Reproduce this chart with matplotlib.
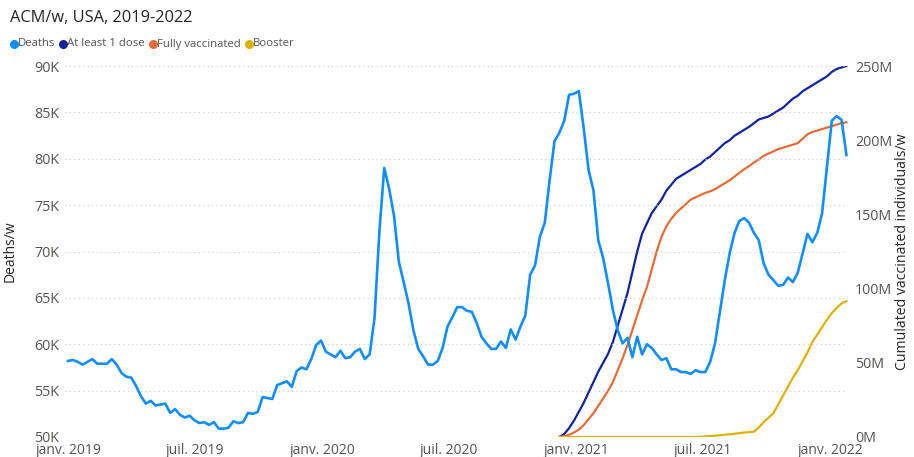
import matplotlib
matplotlib.use('Agg')
import matplotlib.pyplot as plt
import matplotlib.ticker as mticker
import numpy as np
import pandas as pd

# weekly data, one point per ISO week starting 2019-W01
start_date = '2018-12-31'

deaths_k = [
    58.2, 58.3, 58.1, 57.8, 58.1, 58.4, 57.9, 57.9, 57.9, 58.4,
    57.8, 56.9, 56.5, 56.4, 55.5, 54.4, 53.6, 53.9, 53.4, 53.5,
    53.6, 52.6, 53.0, 52.4, 52.1, 52.3, 51.8, 51.5, 51.6, 51.3,
    51.6, 50.9, 50.9, 51.0, 51.7, 51.5, 51.6, 52.6, 52.5, 52.7,
    54.3, 54.2, 54.1, 55.6, 55.8, 56.0, 55.4, 57.1, 57.5, 57.3,
    58.4, 59.9, 60.4, 59.2, 58.9, 58.6, 59.3, 58.5, 58.6, 59.2,
    59.5, 58.4, 58.9, 62.8, 72.1, 79.0, 76.8, 73.9, 68.9, 66.7,
    64.4, 61.5, 59.5, 58.7, 57.8, 57.8, 58.2, 59.6, 61.9, 62.9,
    64.0, 64.0, 63.6, 63.5, 62.3, 60.8, 60.1, 59.5, 59.5, 60.3,
    59.6, 61.6, 60.5, 61.9, 63.1, 67.5, 68.5, 71.6, 73.1, 77.7,
    81.9, 82.8, 84.1, 86.9, 87.0, 87.3, 83.3, 78.8, 76.6, 71.2,
    69.3, 66.6, 63.7, 61.5, 60.1, 60.7, 58.6, 60.8, 58.9, 60.0,
    59.6, 58.9, 58.3, 58.5, 57.3, 57.3, 57.0, 57.0, 56.8, 57.2,
    57.0, 57.0, 58.1, 60.1, 63.5, 66.9, 69.8, 72.0, 73.3, 73.6,
    73.1, 72.0, 71.2, 68.7, 67.5, 66.9, 66.3, 66.4, 67.2, 66.7,
    67.7, 69.8, 71.9, 71.0, 72.0, 74.1, 79.1, 84.1, 84.6, 84.2,
    80.4,
]

# vaccination series begin at week index 101 (mid-December 2020), millions
vacc_start = 101
one_dose_m = [
    0, 2, 6, 11, 17, 23, 30, 37, 44, 50,
    56, 64, 75, 86, 97, 111, 125, 137, 144, 151,
    155.5, 160, 166, 170, 174, 176, 178, 180, 182, 184,
    187, 189, 192, 195, 198, 200, 203, 205, 207, 209,
    211.5, 214, 215, 216, 218, 220, 222, 225, 228, 230,
    233, 235, 237, 239, 241, 243, 246, 248, 249, 250,
]
fully_m = [
    0, 0.5, 1.5, 3, 5, 8, 12, 16, 21, 26,
    31, 37, 45, 53, 62, 72, 82, 92, 101, 113,
    125, 135, 142, 147, 151, 154, 157, 160, 161.5, 163,
    164.5, 165.5, 167, 169, 171, 173, 175.5, 178, 180.5, 182.5,
    185, 187, 189.5, 191, 192.5, 194, 195, 196, 197, 198,
    201, 204, 205.5, 206.5, 207.5, 208.5, 209.5, 210.5, 211.5, 212,
]
booster_m = [
    0, 0, 0, 0, 0, 0, 0, 0, 0, 0,
    0, 0, 0, 0, 0, 0, 0, 0, 0, 0,
    0, 0, 0, 0, 0, 0, 0, 0, 0, 0.2,
    0.4, 0.6, 0.9, 1.2, 1.5, 1.8, 2.2, 2.6, 3.0, 3.3,
    3.6, 6.5, 10, 13, 16, 22, 28, 34, 40, 45,
    51, 57, 64, 69, 74, 79, 83.5, 87, 90, 91.5,
]

series_names = ['Deaths', 'At least 1 dose', 'Fully vaccinated', 'Booster']
series_colors = ['#118DFF', '#12239E', '#E66C37', '#D9B300']

x_tick_dates = ['2019-01-01', '2019-07-01', '2020-01-01', '2020-07-01',
                '2021-01-01', '2021-07-01', '2022-01-01']
x_tick_labels = ['janv. 2019', 'juil. 2019', 'janv. 2020', 'juil. 2020',
                 'janv. 2021', 'juil. 2021', 'janv. 2022']

FONT = ['Open Sans', 'DejaVu Sans']
plt.rcParams['font.family'] = FONT
TEXT_GREY = '#555351'
TEXT_DARK = '#252423'

dates = pd.date_range(start_date, periods=len(deaths_k), freq='7D')
vdates = dates[vacc_start:vacc_start + len(one_dose_m)]

W, H = 914, 457
fig = plt.figure(figsize=(W / 100, H / 100), dpi=100)

ax_l, ax_r, ax_b, ax_t = 65, 848, 437, 66
ax = fig.add_axes([ax_l / W, 1 - ax_b / H, (ax_r - ax_l) / W, (ax_b - ax_t) / H])
ax2 = ax.twinx()

# vaccination lines on the secondary axis
ax2.plot(vdates, np.array(one_dose_m) * 1e6, color=series_colors[1], lw=1.6)
ax2.plot(vdates, np.array(fully_m) * 1e6, color=series_colors[2], lw=1.6)
ax2.plot(vdates, np.array(booster_m) * 1e6, color=series_colors[3], lw=1.6)

# deaths on the primary axis, drawn on top
ax.plot(dates, np.array(deaths_k) * 1000, color=series_colors[0], lw=1.9)
ax.set_zorder(ax2.get_zorder() + 1)
ax.patch.set_visible(False)

# x scale: data spans roughly px 68 to 846
px_per_day = 0.695
first_px = 68
x0 = dates[0] - pd.Timedelta(days=(first_px - ax_l) / px_per_day)
x1 = x0 + pd.Timedelta(days=(ax_r - ax_l) / px_per_day)
ax.set_xlim(x0, x1)

ax.set_ylim(50000, 90000)
ax2.set_ylim(0, 250e6)
ax.yaxis.set_major_locator(mticker.MultipleLocator(5000))
ax2.yaxis.set_major_locator(mticker.MultipleLocator(50e6))
ax.yaxis.set_major_formatter(mticker.FuncFormatter(lambda v, p: '{:.0f}K'.format(v / 1000)))
ax2.yaxis.set_major_formatter(mticker.FuncFormatter(lambda v, p: '{:.0f}M'.format(v / 1e6)))

ax.set_xticks(pd.to_datetime(x_tick_dates))
ax.set_xticklabels(x_tick_labels)

ax.grid(axis='y', color='#C8C8C8', linestyle=(0, (1, 3)), lw=0.8)
ax.grid(axis='x', visible=False)

for a in (ax, ax2):
    for s in a.spines.values():
        s.set_visible(False)
ax.tick_params(axis='y', length=0, labelsize=10.3, labelcolor=TEXT_GREY, pad=4)
ax.tick_params(axis='x', length=0, labelsize=10, labelcolor=TEXT_GREY, pad=4)
ax2.tick_params(axis='y', length=0, labelsize=10.3, labelcolor=TEXT_GREY, pad=5)

ax.set_ylabel('Deaths/w', fontsize=10, color=TEXT_DARK)
ax.yaxis.set_label_coords((18 - ax_l) / (ax_r - ax_l), 0.5)
ax2.set_ylabel('Cumulated vaccinated individuals/w', fontsize=10.2, color=TEXT_DARK)
ax2.yaxis.set_label_coords((895 - ax_l) / (ax_r - ax_l), 0.5)

# title and legend
fig.text(10 / W, 1 - 18 / H, 'ACM/w, USA, 2019-2022', fontsize=11.8,
         color=TEXT_DARK, va='center', ha='left')

renderer = fig.canvas.get_renderer()
lx = 14
ly = 1 - 44 / H
for name, col in zip(series_names, series_colors):
    fig.lines.append(plt.Line2D([lx / W], [ly], marker='o', ms=5.5, color=col,
                                transform=fig.transFigure, ls='none'))
    t = fig.text((lx + 4) / W, ly, name, fontsize=8.2, color=TEXT_GREY,
                 va='center', ha='left')
    bb = t.get_window_extent(renderer)
    lx = bb.x1 + 8

fig.savefig('out.png', dpi=100)
